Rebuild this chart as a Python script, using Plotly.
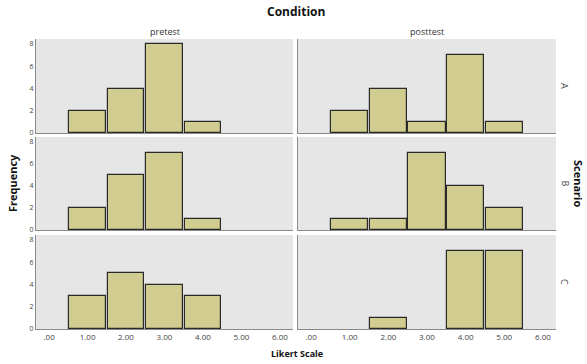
import plotly.graph_objects as go

categories = [1, 2, 3, 4, 5]
conditions = ["pretest", "posttest"]
scenarios = ["A", "B", "C"]
pretest_A = [2, 4, 8, 1, 0]
posttest_A = [2, 4, 1, 7, 1]
pretest_B = [2, 5, 7, 1, 0]
posttest_B = [1, 1, 7, 4, 2]
pretest_C = [3, 5, 4, 3, 0]
posttest_C = [0, 1, 0, 7, 7]
x_tickvals = [0, 1, 2, 3, 4, 5, 6]
x_ticktext = [".00", "1.00", "2.00", "3.00", "4.00", "5.00", "6.00"]
y_tickvals = [0, 2, 4, 6, 8]

data = {
    ("A", "pretest"): pretest_A, ("A", "posttest"): posttest_A,
    ("B", "pretest"): pretest_B, ("B", "posttest"): posttest_B,
    ("C", "pretest"): pretest_C, ("C", "posttest"): posttest_C,
}

W, H = 587, 364
xdom = [[36 / W, 293 / W], [298 / W, 556 / W]]
rows_px = [(39, 133), (137, 230), (235, 329)]
ydom = [[1 - b / H, 1 - t / H] for t, b in rows_px]

FONT = "Open Sans"
fig = go.Figure()
layout = dict(
    width=W, height=H, margin=dict(l=0, r=0, t=0, b=0, autoexpand=False),
    paper_bgcolor="white", plot_bgcolor="#e6e6e6",
    showlegend=False, font=dict(family=FONT, size=8, color="#444"),
    bargap=0,
)
annotations = []
idx = 0
for r, sc in enumerate(scenarios):
    for c, cond in enumerate(conditions):
        idx += 1
        xa = "x" if idx == 1 else f"x{idx}"
        ya = "y" if idx == 1 else f"y{idx}"
        vals = data[(sc, cond)]
        xs = [x for x, v in zip(categories, vals) if v > 0]
        ys = [v for v in vals if v > 0]
        fig.add_trace(go.Bar(
            x=xs, y=ys, width=0.96, xaxis=xa, yaxis=ya,
            marker=dict(color="#d1cc8f", line=dict(color="#2a2a2a", width=1.2)),
            hoverinfo="x+y",
        ))
        xkey = "xaxis" if idx == 1 else f"xaxis{idx}"
        ykey = "yaxis" if idx == 1 else f"yaxis{idx}"
        layout[xkey] = dict(
            domain=xdom[c], anchor=ya, range=[-0.34, 6.34],
            tickvals=x_tickvals, ticktext=x_ticktext,
            showticklabels=(r == 2), showgrid=False, zeroline=False,
            showline=True, linecolor="#8a8a8a", linewidth=1.2,
            ticks="", tickfont=dict(size=8, color="#444", family=FONT),
            fixedrange=True, automargin=False,
        )
        layout[ykey] = dict(
            domain=ydom[r], anchor=xa, range=[0, 8.45],
            tickvals=y_tickvals, showticklabels=(c == 0),
            showgrid=False, zeroline=False,
            showline=True, linecolor="#8a8a8a", linewidth=1.2,
            ticks="", tickfont=dict(size=7, color="#444", family=FONT),
            fixedrange=True, automargin=False,
        )
    annotations.append(dict(
        text=sc, x=565 / W, y=(ydom[r][0] + ydom[r][1]) / 2,
        xref="paper", yref="paper", showarrow=False, textangle=90,
        xanchor="center", yanchor="middle",
        font=dict(size=9, color="#444", family=FONT),
    ))

for c, cond in enumerate(conditions):
    annotations.append(dict(
        text=cond, x=(xdom[c][0] + xdom[c][1]) / 2, y=1 - 31 / H,
        xref="paper", yref="paper", showarrow=False,
        xanchor="center", yanchor="middle",
        font=dict(size=9, color="#333", family=FONT),
    ))

annotations += [
    dict(text="<b>Condition</b>", x=296 / W, y=1 - 11 / H, xref="paper", yref="paper",
         xanchor="center", yanchor="middle",
         showarrow=False, font=dict(size=12, color="#111", family=FONT)),
    dict(text="<b>Likert Scale</b>", x=297 / W, y=1 - 353 / H, xref="paper", yref="paper",
         xanchor="center", yanchor="middle",
         showarrow=False, font=dict(size=9, color="#111", family=FONT)),
    dict(text="<b>Frequency</b>", x=12 / W, y=1 - 183 / H, xref="paper", yref="paper",
         xanchor="center", yanchor="middle",
         showarrow=False, textangle=-90, font=dict(size=11, color="#111", family=FONT)),
    dict(text="<b>Scenario</b>", x=579 / W, y=1 - 183 / H, xref="paper", yref="paper",
         xanchor="center", yanchor="middle",
         showarrow=False, textangle=90, font=dict(size=11, color="#111", family=FONT)),
]
layout["annotations"] = annotations
fig.update_layout(**layout)
fig.write_html(
    "out.html",
    config={"displayModeBar": False},
    post_script="document.body.style.margin='0';document.body.style.padding='0';",
)
